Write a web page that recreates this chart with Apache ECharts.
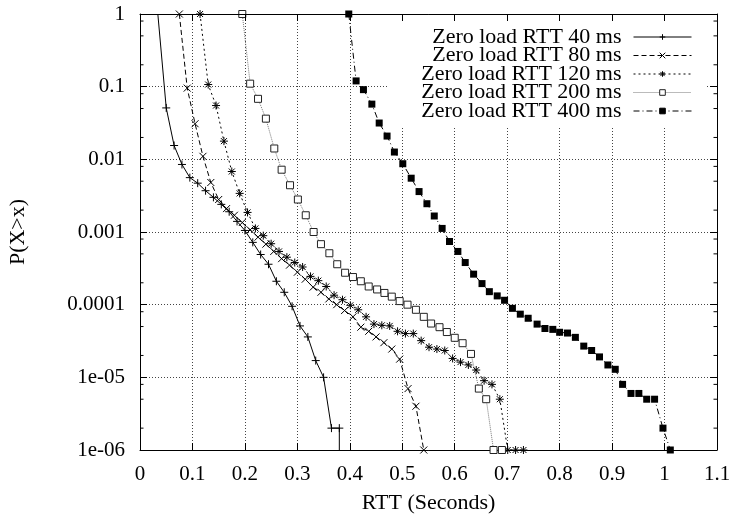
<!DOCTYPE html>
<html><head><meta charset="utf-8">
<script src="https://cdn.jsdelivr.net/npm/echarts@6/dist/echarts.min.js"></script>
<style>html,body{margin:0;padding:0;background:#fff}#c{width:733px;height:515px}</style>
</head><body><div id="c"></div>
<script>
const SERIES_NAMES = ['Zero load RTT 40 ms','Zero load RTT 80 ms','Zero load RTT 120 ms','Zero load RTT 200 ms','Zero load RTT 400 ms'];

const X_40 = [0.034,0.050,0.065,0.080,0.095,0.110,0.125,0.140,0.155,0.170,0.185,0.200,0.215,0.230,0.245,0.260,0.275,0.290,0.305,0.320,0.335,0.350,0.365,0.380,0.380];
const Y_40 = [1,0.051,0.0155,0.0085,0.0056,0.0047,0.0037,0.0030,0.0024,0.0019,0.0014,0.00105,0.00072,0.00049,0.00036,0.00021,0.000148,0.000095,0.000051,0.000036,0.000017,0.00001,0.000002,0.000002,0.0000001];
const NO_MARKER_40 = [0];

const X_80 = [0.075,0.090,0.105,0.120,0.135,0.150,0.165,0.180,0.195,0.210,0.225,0.240,0.255,0.270,0.285,0.300,0.315,0.330,0.345,0.360,0.375,0.390,0.406,0.421,0.436,0.450,0.465,0.480,0.495,0.511,0.526,0.541];
const Y_80 = [1,0.0955,0.0309,0.011,0.0048,0.0028,0.0021,0.0017,0.00135,0.00107,0.00085,0.00068,0.00054,0.00043,0.00035,0.00028,0.000224,0.000174,0.000148,0.00012,0.0001,0.000083,0.000068,0.000049,0.000043,0.000036,0.00003,0.0000245,0.0000178,0.000007,0.000004,0.000001];

const X_120 = [0.1145,0.130,0.145,0.160,0.175,0.190,0.205,0.220,0.235,0.250,0.265,0.280,0.295,0.310,0.325,0.340,0.355,0.370,0.386,0.401,0.416,0.431,0.446,0.461,0.476,0.491,0.506,0.521,0.536,0.551,0.566,0.581,0.596,0.611,0.626,0.641,0.656,0.671,0.686,0.701,0.716,0.731];
const Y_120 = [1,0.107,0.055,0.0178,0.0068,0.0034,0.00186,0.00112,0.00089,0.00069,0.00054,0.00045,0.00038,0.00033,0.000245,0.000214,0.000178,0.000135,0.000117,0.000098,0.000085,0.000068,0.000054,0.000052,0.000051,0.000043,0.00004,0.00004,0.000032,0.000026,0.0000245,0.0000234,0.0000182,0.0000162,0.0000148,0.0000126,0.000009,0.000008,0.000005,0.000001,0.000001,0.000001];

const X_200 = [0.195,0.210,0.225,0.240,0.256,0.270,0.286,0.301,0.316,0.331,0.345,0.361,0.376,0.391,0.406,0.421,0.436,0.452,0.466,0.480,0.495,0.510,0.526,0.541,0.555,0.571,0.585,0.600,0.615,0.631,0.646,0.660,0.674,0.690];
const Y_200 = [1,0.11,0.068,0.0363,0.0141,0.0072,0.0044,0.0028,0.0017,0.001,0.00068,0.00051,0.00036,0.000275,0.00024,0.00021,0.000178,0.000162,0.000145,0.000129,0.000112,0.0001,0.000085,0.000068,0.000055,0.000049,0.000042,0.000035,0.0000295,0.000021,0.000007,0.000005,0.000001,0.000001];

const X_400 = [0.398,0.412,0.426,0.442,0.456,0.471,0.485,0.501,0.517,0.532,0.547,0.561,0.576,0.590,0.606,0.620,0.636,0.652,0.666,0.681,0.695,0.710,0.725,0.740,0.757,0.772,0.787,0.800,0.815,0.830,0.846,0.861,0.876,0.892,0.906,0.920,0.936,0.951,0.966,0.981,0.997,1.011];
const Y_400 = [1,0.12,0.091,0.0575,0.0316,0.0209,0.0126,0.0087,0.0055,0.0036,0.00245,0.00166,0.00112,0.00074,0.00054,0.00038,0.000263,0.000195,0.000151,0.000132,0.000115,0.000089,0.000074,0.000065,0.000054,0.000047,0.0000457,0.0000417,0.0000407,0.0000355,0.0000269,0.0000234,0.0000191,0.0000148,0.0000129,0.000008,0.000006,0.000006,0.000005,0.000005,0.000002,0.000001];

const X_TICK_LABELS = ['0','0.1','0.2','0.3','0.4','0.5','0.6','0.7','0.8','0.9','1','1.1'];
const Y_TICK_LABELS = ['1','0.1','0.01','0.001','0.0001','1e-05','1e-06'];
const Y_MINOR_TICKS = [0.8,0.5,0.2,0.08,0.05,0.02,0.008,0.005,0.002,0.0008,0.0005,0.0002,0.00008,0.00005,0.00002,0.000008,0.000005,0.000002];

const X_MIN = 0, X_MAX = 1.1, Y_MIN = 1e-6, Y_MAX = 1;
const FONT = 'Liberation Serif';
const FS = 21;
const FS_BIG = 22;

function build(xs, ys, hidden) {
  return xs.map((x, i) => (hidden && hidden.indexOf(i) >= 0) ? {value: [x, ys[i]], symbol: 'none'} : [x, ys[i]]);
}

const PLUS = 'path://M0,4L8,4M4,0L4,8';
const CROSS = 'path://M0,0L8,8M8,0L0,8';
const STAR = 'path://M0,4L8,4M4,0L4,8M1,1L7,7M7,1L1,7';

function lineSeries(name, data, symbol, size, lineType, lineColor, itemStyle) {
  return {
    name, type: 'line', data, symbol, symbolSize: size, symbolKeepAspect: true,
    showAllSymbol: true, clip: true, animation: false,
    lineStyle: {color: lineColor, width: 1, type: lineType},
    itemStyle: itemStyle,
    emphasis: {disabled: true}
  };
}

const chart = echarts.init(document.getElementById('c'), null, {renderer: 'canvas'});
chart.setOption({
  animation: false,
  backgroundColor: '#fff',
  textStyle: {fontFamily: FONT},
  grid: {left: 140, right: 16, top: 14, bottom: 65, containLabel: false, outerBoundsMode: 'none'},
  xAxis: [{
    type: 'value', min: X_MIN, max: X_MAX, interval: 0.1, position: 'bottom',
    name: 'RTT (Seconds)', nameLocation: 'middle', nameGap: 42,
    nameTextStyle: {fontFamily: FONT, fontSize: FS_BIG, color: '#000'},
    axisLine: {show: true, onZero: false, lineStyle: {color: '#000', width: 1}},
    axisTick: {show: true, inside: true, length: 7, lineStyle: {color: '#000'}},
    axisLabel: {margin: 14, fontFamily: FONT, fontSize: FS, color: '#000',
      formatter: v => X_TICK_LABELS[Math.round(v * 10)]},
    splitLine: {show: true, lineStyle: {color: '#444', width: 1, type: [1, 2]}}
  }, {
    type: 'value', min: X_MIN, max: X_MAX, interval: 0.1, position: 'top', z: 10,
    axisLine: {show: true, onZero: false, lineStyle: {color: '#000', width: 1}},
    axisTick: {show: true, inside: true, length: 7, lineStyle: {color: '#000'}},
    axisLabel: {show: false}, splitLine: {show: false}
  }],
  yAxis: [{
    type: 'log', logBase: 10, min: Y_MIN, max: Y_MAX, position: 'left',
    name: 'P(X>x)', nameLocation: 'middle', nameGap: 111,
    nameTextStyle: {fontFamily: FONT, fontSize: FS_BIG, color: '#000'},
    axisLine: {show: true, onZero: false, lineStyle: {color: '#000', width: 1}},
    axisTick: {show: true, inside: true, length: 7, lineStyle: {color: '#000'}},
    axisLabel: {margin: 15, fontFamily: FONT, fontSize: FS, color: '#000',
      formatter: v => Y_TICK_LABELS[Math.round(-Math.log10(v))]},
    splitLine: {show: true, lineStyle: {color: '#444', width: 1, type: [1, 2]}}
  }, {
    type: 'log', logBase: 10, min: Y_MIN, max: Y_MAX, position: 'right',
    axisLine: {show: true, onZero: false, lineStyle: {color: '#000', width: 1}},
    axisTick: {show: true, inside: true, length: 7, lineStyle: {color: '#000'}},
    axisLabel: {show: false}, splitLine: {show: false}
  }],
  legend: {
    data: SERIES_NAMES, orient: 'vertical', right: 26, top: 15, align: 'right',
    padding: [11, 15, 5, 34], backgroundColor: '#fff', itemGap: -3.5,
    itemWidth: 58, itemHeight: 7, selectedMode: false,
    lineStyle: {width: 1},
    itemStyle: {borderWidth: 1},
    textStyle: {fontFamily: FONT, fontSize: FS_BIG, color: '#000', padding: [0, 7, 0, 0]},
    z: 4
  },
  series: [
    lineSeries(SERIES_NAMES[0], build(X_40, Y_40, NO_MARKER_40), PLUS, 8, 'solid', '#000',
      {color: '#000', borderColor: '#000', borderWidth: 1}),
    lineSeries(SERIES_NAMES[1], build(X_80, Y_80), CROSS, 7, [5, 3], '#000',
      {color: '#000', borderColor: '#000', borderWidth: 1}),
    lineSeries(SERIES_NAMES[2], build(X_120, Y_120), STAR, 8, [2, 3], '#000',
      {color: '#000', borderColor: '#000', borderWidth: 1}),
    lineSeries(SERIES_NAMES[3], build(X_200, Y_200), 'rect', 7, [1, 1], '#777',
      {color: '#fff', borderColor: '#222', borderWidth: 1}),
    lineSeries(SERIES_NAMES[4], build(X_400, Y_400), 'rect', 7, [6, 3, 1, 3], '#000',
      {color: '#000', borderColor: '#000', borderWidth: 0}),
    {
      type: 'custom', name: 'minorTicks', silent: true, animation: false, clip: false, z: 3,
      xAxisIndex: 0, yAxisIndex: 0,
      data: Y_MINOR_TICKS.map(v => [X_MIN, v]),
      renderItem: function (params, api) {
        const v = api.value(1);
        const pl = api.coord([X_MIN, v]);
        const pr = api.coord([X_MAX, v]);
        const st = {stroke: '#000', lineWidth: 1};
        return {type: 'group', children: [
          {type: 'line', shape: {x1: pl[0], y1: pl[1], x2: pl[0] + 3.5, y2: pl[1]}, style: st},
          {type: 'line', shape: {x1: pr[0], y1: pr[1], x2: pr[0] - 3.5, y2: pr[1]}, style: st}
        ]};
      }
    }
  ]
});
</script>
</body></html>
